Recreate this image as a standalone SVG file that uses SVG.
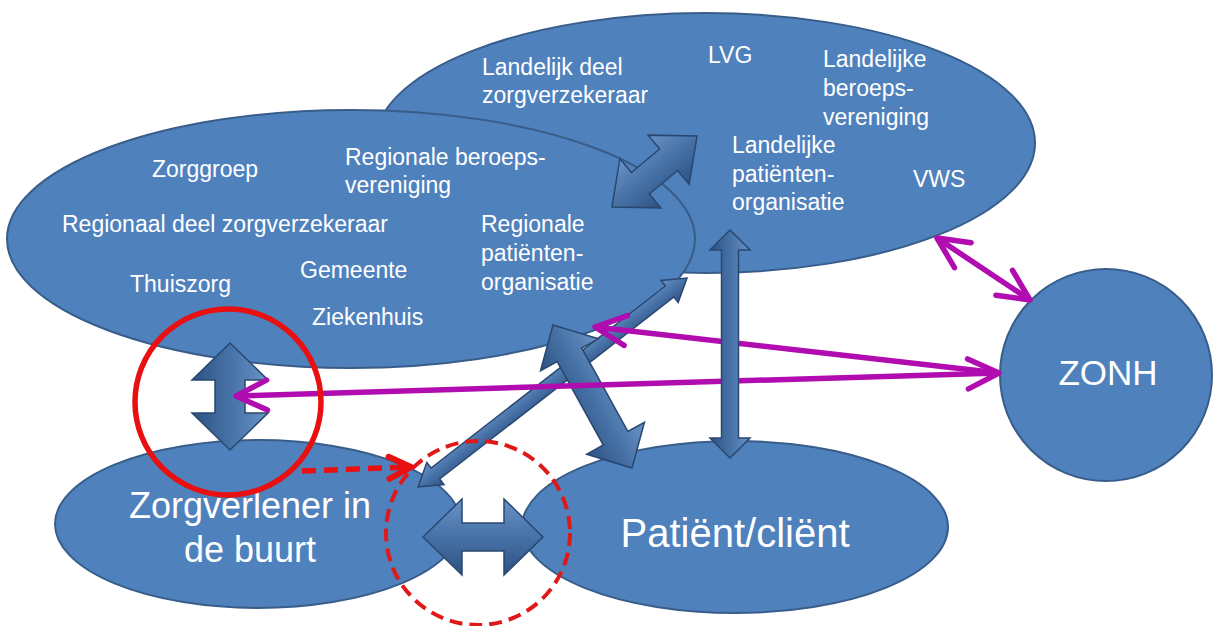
<svg xmlns="http://www.w3.org/2000/svg" width="1214" height="626" viewBox="0 0 1214 626">
<defs>
<style>
.ell{fill:#4F81BD;stroke:#385D8A;stroke-width:2}
.t{font-family:"Liberation Sans",Arial,sans-serif;font-size:23px;fill:#FFFFFF}
.big{font-family:"Liberation Sans",Arial,sans-serif;fill:#FFFFFF}
.blk{fill:url(#bevel);stroke:#29476F;stroke-width:1.5;stroke-linejoin:miter}
.mag{fill:none;stroke:#B00CB0;stroke-width:5.5}
</style>
<linearGradient id="bevel" x1="0" y1="0" x2="0" y2="1">
<stop offset="0" stop-color="#6A93C6"/>
<stop offset="0.45" stop-color="#4A75AA"/>
<stop offset="1" stop-color="#2D5283"/>
</linearGradient>
<marker id="chev" viewBox="-36 -20 40 40" markerWidth="40" markerHeight="40" markerUnits="userSpaceOnUse" refX="0" refY="0" orient="auto-start-reverse">
<path d="M-31,-15 L0,0 L-31,15" fill="none" stroke="#B00CB0" stroke-width="5.5" stroke-linecap="round" stroke-linejoin="round"/>
</marker>
<marker id="redchev" viewBox="-30 -18 34 36" markerWidth="34" markerHeight="36" markerUnits="userSpaceOnUse" refX="0" refY="0" orient="auto">
<path d="M-22,-11 L0,0 L-22,11" fill="none" stroke="#E81010" stroke-width="6" stroke-linecap="round" stroke-linejoin="round"/>
</marker>
</defs>

<g id="landelijk">
<ellipse class="ell" cx="705" cy="143" rx="330" ry="130"/>
<text class="t" x="482" y="75">Landelijk deel</text>
<text class="t" x="482" y="103">zorgverzekeraar</text>
<text class="t" x="708" y="63">LVG</text>
<text class="t" x="823" y="67">Landelijke</text>
<text class="t" x="823" y="96">beroeps-</text>
<text class="t" x="823" y="125">vereniging</text>
<text class="t" x="732" y="153">Landelijke</text>
<text class="t" x="732" y="182">patiënten-</text>
<text class="t" x="732" y="210">organisatie</text>
<text class="t" x="913" y="187">VWS</text>
</g>

<g id="regionaal">
<ellipse class="ell" cx="351" cy="239" rx="344" ry="129"/>
<text class="t" x="152" y="177">Zorggroep</text>
<text class="t" x="345" y="165">Regionale beroeps-</text>
<text class="t" x="345" y="193">vereniging</text>
<text class="t" x="62" y="232">Regionaal deel zorgverzekeraar</text>
<text class="t" x="481" y="232">Regionale</text>
<text class="t" x="481" y="261">patiënten-</text>
<text class="t" x="481" y="290">organisatie</text>
<text class="t" x="130" y="292">Thuiszorg</text>
<text class="t" x="300" y="278">Gemeente</text>
<text class="t" x="312" y="325">Ziekenhuis</text>
</g>

<g id="zonh">
<circle class="ell" cx="1106" cy="375" r="106"/>
<text class="big" x="1108" y="385" font-size="35" text-anchor="middle">ZONH</text>
</g>

<g id="zorgverlener">
<ellipse class="ell" cx="258" cy="524" rx="203" ry="84"/>
<text class="big" x="250" y="518" font-size="36" text-anchor="middle">Zorgverlener in</text>
<text class="big" x="250" y="562" font-size="36" text-anchor="middle">de buurt</text>
</g>

<g id="patient">
<ellipse class="ell" cx="735" cy="527" rx="213" ry="86"/>
<text class="big" x="735" y="547" font-size="40" text-anchor="middle">Patiënt/cliënt</text>
</g>

<g id="connectors">
<polygon class="blk" transform="translate(654.5,171.5) rotate(-39.87)" points="-55.4,0 -18.4,-32 -18.4,-14 18.4,-14 18.4,-32 55.4,0 18.4,32 18.4,14 -18.4,14 -18.4,32"/>
<polygon class="blk" transform="translate(230,396.5) rotate(90)" points="-53.5,0 -16.5,-38 -16.5,-15 16.5,-15 16.5,-38 53.5,0 16.5,38 16.5,15 -16.5,15 -16.5,38"/>
<polygon class="blk" transform="translate(552.5,382.5) rotate(-37.85)" points="-170.3,0 -148.3,-14 -148.3,-7 148.3,-7 148.3,-14 170.3,0 148.3,14 148.3,7 -148.3,7 -148.3,14"/>
<polygon class="blk" transform="translate(592.5,396.5) rotate(61.08)" points="-81.7,0 -47.7,-33 -47.7,-14 47.7,-14 47.7,-33 81.7,0 47.7,33 47.7,14 -47.7,14 -47.7,33"/>
<polygon class="blk" transform="translate(483,537)" points="-60,0 -21,-38 -21,-14 21,-14 21,-38 60,0 21,38 21,14 -21,14 -21,38"/>

<line class="mag" x1="999" y1="373" x2="236" y2="396" marker-start="url(#chev)" marker-end="url(#chev)"/>
<line class="mag" x1="999" y1="373" x2="595" y2="327" marker-end="url(#chev)"/>
<line class="mag" x1="937" y1="238" x2="1030" y2="300" marker-start="url(#chev)" marker-end="url(#chev)"/>

<polygon class="blk" transform="translate(730,344) rotate(90)" points="-114,0 -94,-20 -94,-8.5 94,-8.5 94,-20 114,0 94,20 94,8.5 -94,8.5 -94,20"/>

<circle cx="228" cy="402" r="93" fill="none" stroke="#E81010" stroke-width="5.5"/>
<circle cx="478" cy="533" r="92" fill="none" stroke="#E01818" stroke-width="4" stroke-dasharray="13 7"/>
<line x1="302" y1="471" x2="411" y2="467" stroke="#E81010" stroke-width="5.5" stroke-dasharray="14 8" marker-end="url(#redchev)"/>
</g>
</svg>
